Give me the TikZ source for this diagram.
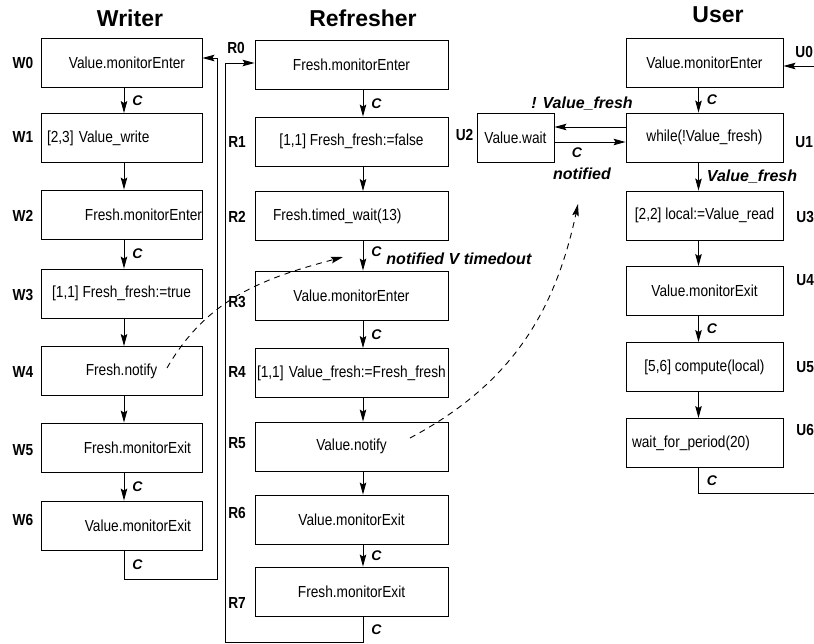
\documentclass[tikz,border=0pt]{standalone}
\usepackage{fontspec}
\setmainfont{Liberation Sans}
\newfontfamily\narrowsf[FakeStretch=0.855]{Liberation Sans}
\usepackage{tikz}
\usetikzlibrary{arrows.meta}
\usetikzlibrary{positioning}
\tikzset{
  stepbox/.style = {draw, rectangle, minimum height=49pt, inner sep=0pt,
    font=\narrowsf\fontsize{16}{19}\selectfont},
  wbox/.style = {stepbox, minimum width=161pt},% writer
  rbox/.style = {stepbox, minimum width=193pt},% refresher
  ubox/.style = {stepbox, minimum width=157pt},% user
  steplab/.style = {inner sep=0pt, font=\narrowsf\bfseries\fontsize{16}{19}\selectfont},
  proctitle/.style = {font=\bfseries\fontsize{23}{26}\selectfont},
  cmark/.style = {inner sep=2pt, font=\bfseries\itshape\fontsize{14}{16}\selectfont},
  condlab/.style = {inner sep=2pt, font=\bfseries\itshape\fontsize{16}{19}\selectfont},
  sig/.style = {dash pattern=on 6pt off 5pt}
}

\begin{document}
\begin{tikzpicture}[x=1pt,y=-1pt,line width=0.9pt,
  >={Stealth[length=12pt,width=6.5pt,inset=2pt]}]
\useasboundingbox (0,0) rectangle (814,643);

\node[proctitle] (tw) at (130,18) {Writer};
\node[proctitle] (tr) at (363,18) {Refresher};
\node[proctitle] (tu) at (718,15) {User};

% axes of the arrows
\coordinate (wax) at (124,0);
\coordinate (rax) at (363,0);
\coordinate (uax) at (698.5,0);

% Writer
\node[wbox, text width=127pt, inner xsep=17pt, align=right] (w0) at (121.5,63) {Value.monitorEnter};
\node[wbox, text width=149pt, inner xsep=6pt, align=left] (w1) at (121.5,138) {[2,3] Value\_write};
\node[wbox, text width=161pt, align=right] (w2) at (121.5,214.5) {Fresh.monitorEnter};
\node[wbox] (w3) at (121.5,293.5) {[1,1] Fresh\_fresh:=true};
\node[wbox] (w4) at (121.5,371) {Fresh.notify};
\node[wbox, text width=139pt, inner xsep=11pt, align=right] (w5) at (121.5,447.5) {Fresh.monitorExit};
\node[wbox, text width=139pt, inner xsep=11pt, align=right] (w6) at (121.5,525.5) {Value.monitorExit};

\node[steplab] (lw0) at (23,63) {W0};
\node[steplab] (lw1) at (23,137) {W1};
\node[steplab] (lw2) at (23,216) {W2};
\node[steplab] (lw3) at (23,295) {W3};
\node[steplab] (lw4) at (23,372) {W4};
\node[steplab] (lw5) at (23,450) {W5};
\node[steplab] (lw6) at (23,520) {W6};

\draw[->] (w0.south -| wax) -- node[cmark, right=6pt] {C} (w1.north -| wax);
\draw[->] (w1.south -| wax) -- (w2.north -| wax);
\draw[->] (w2.south -| wax) -- node[cmark, right=6pt] {C} (w3.north -| wax);
\draw[->] (w3.south -| wax) -- (w4.north -| wax);
\draw[->] (w4.south -| wax) -- (w5.north -| wax);
\draw[->] (w5.south -| wax) -- node[cmark, right=6pt] {C} (w6.north -| wax);
\coordinate (wl) at (217,579);
\draw[->] (w6.south -| wax) -- node[cmark, right=6pt] {C} (wl -| wax) -- (wl) |- ([yshift=5pt]w0.east);

% Refresher
\node[rbox] (r0) at (351.5,65) {Fresh.monitorEnter};
\node[rbox] (r1) at (351.5,141.5) {[1,1] Fresh\_fresh:=false};
\node[rbox, text width=157pt, inner xsep=18pt, align=left] (r2) at (351.5,216) {Fresh.timed\_wait(13)};
\node[rbox] (r3) at (351.5,295.5) {Value.monitorEnter};
\node[rbox, text width=189pt, inner xsep=2pt, align=left] (r4) at (351.5,373) {[1,1] Value\_fresh:=Fresh\_fresh};
\node[rbox] (r5) at (351.5,446.5) {Value.notify};
\node[rbox] (r6) at (351.5,519.5) {Value.monitorExit};
\node[rbox] (r7) at (351.5,591.5) {Fresh.monitorExit};

\node[steplab] (lr0) at (236,48) {R0};
\node[steplab] (lr1) at (237,142) {R1};
\node[steplab] (lr2) at (237,217) {R2};
\node[steplab] (lr3) at (237,302) {R3};
\node[steplab] (lr4) at (237,372) {R4};
\node[steplab] (lr5) at (237,443) {R5};
\node[steplab] (lr6) at (237,513) {R6};
\node[steplab] (lr7) at (237,603) {R7};

\draw[->] (r0.south -| rax) -- node[cmark, right=6pt] {C} (r1.north -| rax);
\draw[->] (r1.south -| rax) -- (r2.north -| rax);
\draw[->] (r2.south -| rax) -- node[cmark, right=6pt, yshift=4pt] (c23) {C} (r3.north -| rax);
\node[condlab, right=0pt of c23, yshift=-7pt] (nvt) {notified V timedout};
\draw[->] (r3.south -| rax) -- node[cmark, right=6pt] {C} (r4.north -| rax);
\draw[->] (r4.south -| rax) -- (r5.north -| rax);
\draw[->] (r5.south -| rax) -- (r6.north -| rax);
\draw[->] (r6.south -| rax) -- node[cmark, right=6pt] {C} (r7.north -| rax);
\coordinate (rl) at (225,642);
\draw[->] (r7.south -| rax) -- node[cmark, right=6pt] {C} (rl -| rax) -- (rl) |- ([yshift=2pt]r0.west);

% User
\node[ubox] (u0) at (704.5,62.5) {Value.monitorEnter};
\node[ubox] (u1) at (704.5,137.5) {while(!Value\_fresh)};
\node[stepbox, minimum width=77pt] (u2) at (515.5,137.5) {Value.wait};
\node[ubox] (u3) at (704.5,215.5) {[2,2] local:=Value\_read};
\node[ubox] (u4) at (704.5,291) {Value.monitorExit};
\node[ubox] (u5) at (704.5,367) {[5,6] compute(local)};
\node[ubox, text width=145pt, inner xsep=6pt, align=left] (u6) at (704.5,443) {wait\_for\_period(20)};

\node[steplab, anchor=west] (lu0) at (795,52) {U0};
\node[steplab, anchor=west] (lu1) at (795,142) {U1};
\node[steplab] (lu2) at (464.5,135) {U2};
\node[steplab, anchor=west] (lu3) at (796,217) {U3};
\node[steplab, anchor=west] (lu4) at (796,280) {U4};
\node[steplab, anchor=west] (lu5) at (796,367) {U5};
\node[steplab, anchor=west] (lu6) at (796,430) {U6};

\draw[->] (u0.south -| uax) -- node[cmark, right=6pt] {C} (u1.north -| uax);
\draw[->] (u1.south -| uax) -- node[condlab, right=6pt] {Value\_fresh} (u3.north -| uax);
\draw[->] (u3.south -| uax) -- (u4.north -| uax);
\draw[->] (u4.south -| uax) -- node[cmark, right=6pt] {C} (u5.north -| uax);
\draw[->] (u5.south -| uax) -- (u6.north -| uax);
\coordinate (ul) at (814,493);
\coordinate (ur) at (814,66);
\draw (u6.south -| uax) -- node[cmark, right=6pt] {C} (ul -| uax) -- (ul);
\draw[->] (ur) -- (u0.east |- ur);

\draw[->] ([yshift=10.5pt]u1.west) -- node[condlab, above=14pt, xshift=-8pt] (nv) {! Value\_fresh} ([yshift=10.5pt]u2.east);
\draw[->] ([yshift=-4.5pt]u2.east) -- node[cmark, below=3pt, xshift=-13pt] (cn) {C} ([yshift=-4.5pt]u1.west);
\node[condlab, below=6pt of cn, xshift=5pt] (nf) {notified};

% notify signals
\coordinate (n1s) at (167,368);
\coordinate (n1e) at (343,257);
\draw[->, sig] (n1s) to[out=60, in=195] (n1e);
\coordinate (n2s) at (410,438);
\coordinate (n2e) at (578,204);
\draw[->, sig] (n2s) to[out=28, in=258] (n2e);
\end{tikzpicture}
\end{document}
